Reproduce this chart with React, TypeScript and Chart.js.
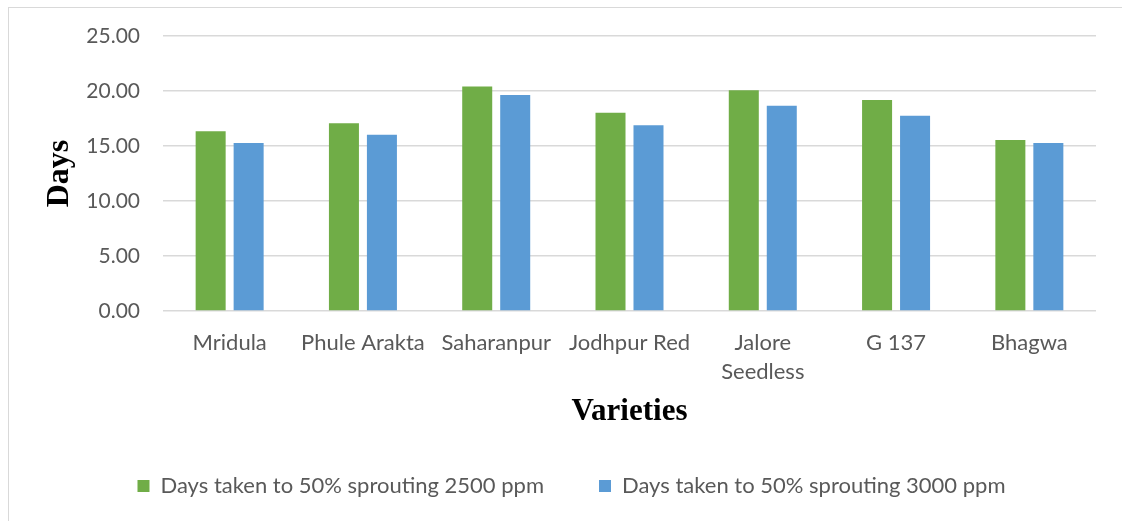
import React, { useEffect, useRef } from "react";
import { Chart, registerables } from "chart.js";

Chart.register(...registerables);

const categories: (string | string[])[] = [
  "Mridula",
  "Phule Arakta",
  "Saharanpur",
  "Jodhpur Red",
  ["Jalore", "Seedless"],
  "G 137",
  "Bhagwa",
];
const days2500 = [16.34, 17.06, 20.42, 18.03, 20.06, 19.18, 15.55];
const days3000 = [15.27, 16.03, 19.64, 16.88, 18.67, 17.76, 15.27];
const seriesNames = [
  "Days taken to 50% sprouting 2500 ppm",
  "Days taken to 50% sprouting 3000 ppm",
];
const yMin = 0;
const yMax = 25;
const yStep = 5;
const xTitle = "Varieties";
const yTitle = "Days";

const GREEN = "#70AD47";
const BLUE = "#5B9BD5";
const TEXT = "#595959";
const GRID = "#d9d9d9";
const SANS = "Lato, 'Open Sans', sans-serif";
const SERIF = "'Liberation Serif', 'Times New Roman', serif";

export default function App() {
  const ref = useRef<HTMLCanvasElement | null>(null);

  useEffect(() => {
    if (!ref.current) return;
    const chart = new Chart(ref.current, {
      type: "bar",
      data: {
        labels: categories as any,
        datasets: [
          {
            label: seriesNames[0],
            data: days2500,
            backgroundColor: GREEN,
            categoryPercentage: 0.57,
            barPercentage: 0.79,
          },
          {
            label: seriesNames[1],
            data: days3000,
            backgroundColor: BLUE,
            categoryPercentage: 0.57,
            barPercentage: 0.79,
          },
        ],
      },
      options: {
        responsive: false,
        animation: false,
        devicePixelRatio: 1,
        layout: { padding: { left: 21, right: 0, top: 36, bottom: 14 } },
        plugins: {
          tooltip: { enabled: false },
          legend: {
            position: "bottom",
            labels: {
              boxWidth: 12,
              boxHeight: 12,
              padding: 55,
              color: TEXT,
              font: { family: SANS, size: 22 },
            },
          },
        },
        scales: {
          x: {
            grid: { display: false, drawTicks: false },
            border: { display: false },
            ticks: {
              color: TEXT,
              padding: 17.5,
              maxRotation: 0,
              autoSkip: false,
              font: { family: SANS, size: 22, lineHeight: 1.318 },
            },
            title: {
              display: true,
              text: xTitle,
              color: "#000",
              padding: { top: 0, bottom: -10.6 },
              font: { family: SERIF, size: 31, weight: "bold" },
            },
            afterFit: (s: any) => {
              s.height = 109;
            },
          },
          y: {
            min: yMin,
            max: yMax,
            ticks: {
              stepSize: yStep,
              color: TEXT,
              padding: 23,
              font: { family: SANS, size: 21 },
              callback: (v: any) => Number(v).toFixed(2),
            },
            grid: { color: GRID, lineWidth: 1.5, drawTicks: false },
            border: { display: false },
            title: {
              display: true,
              text: yTitle,
              color: "#000",
              padding: { top: 19.8, bottom: 0 },
              font: { family: SERIF, size: 32, weight: "bold" },
            },
            afterFit: (s: any) => {
              s.width = 142;
            },
          },
          y2: {
            type: "linear",
            position: "right",
            display: true,
            grid: { display: false, drawTicks: false },
            border: { display: false },
            ticks: { display: false },
            afterFit: (s: any) => {
              s.width = 26;
            },
          },
        },
      },
    });
    return () => chart.destroy();
  }, []);

  return (
    <div style={{ position: "absolute", left: 0, top: 0, width: 1122, height: 521, background: "#fff" }}>
      <div
        style={{
          position: "absolute",
          left: 8,
          top: 7,
          width: 1120,
          height: 520,
          borderTop: "1.5px solid " + GRID,
          borderLeft: "1.5px solid " + GRID,
        }}
      />
      <canvas
        ref={ref}
        width={1122}
        height={521}
        style={{ position: "absolute", left: 0, top: 0, width: 1122, height: 521 }}
      />
    </div>
  );
}
